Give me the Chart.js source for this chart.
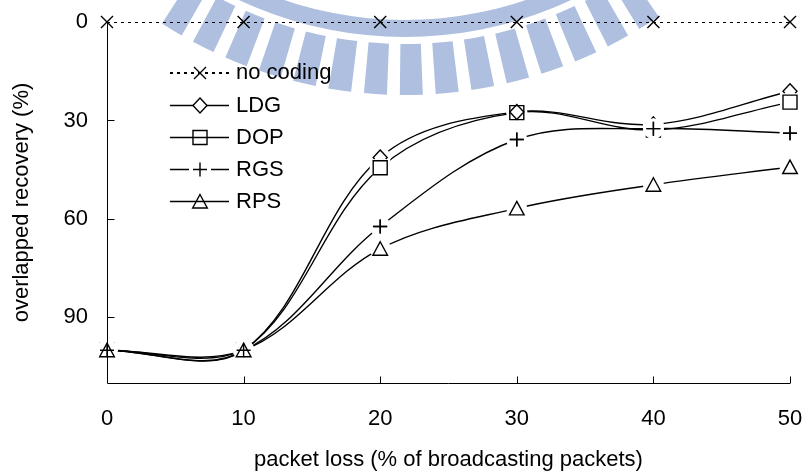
<!DOCTYPE html>
<html>
<head>
<meta charset="utf-8">
<script src="https://cdn.jsdelivr.net/npm/chart.js@4/dist/chart.umd.min.js"></script>
<style>
html, body { margin: 0; padding: 0; background: #fff; }
</style>
</head>
<body>
<canvas id="grafico" width="805" height="473"></canvas>
<script>
// datos
const perdida = [0, 10, 20, 30, 40, 50];
const sinCodigo = [0, 0, 0, 0, 0, 0];
const ldg = [100, 100, 41.3, 27.4, 31.2, 21.1];
const dop = [100, 100, 44.4, 27.6, 32.9, 24.4];
const rgs = [100, 100, 62.3, 35.8, 32.5, 33.9];
const rps = [100, 100, 69.1, 56.8, 49.6, 44.2];
const ticksX = [0, 10, 20, 30, 40, 50];
const ticksY = [0, 30, 60, 90];
const nombres = ['no coding', 'LDG', 'DOP', 'RGS', 'RPS'];

const FUENTE = '"Liberation Sans", Arial, sans-serif';
const TAM = 22;
const AZUL = '#aebfdf';

function puntos(valores) {
  return perdida.map((x, i) => ({ x: x, y: valores[i] }));
}

// dibuja cada marcador a mano
function marcador(ctx, tipo, x, y) {
  ctx.beginPath();
  if (tipo === 'equis') {
    ctx.moveTo(x - 6, y - 6); ctx.lineTo(x + 6, y + 6);
    ctx.moveTo(x - 6, y + 6); ctx.lineTo(x + 6, y - 6);
  } else if (tipo === 'rombo') {
    ctx.moveTo(x, y - 7.5); ctx.lineTo(x + 7, y); ctx.lineTo(x, y + 7.5); ctx.lineTo(x - 7, y); ctx.closePath();
  } else if (tipo === 'cuadro') {
    ctx.rect(x - 7, y - 7, 14, 14);
  } else if (tipo === 'mas') {
    ctx.moveTo(x - 7, y); ctx.lineTo(x + 7, y);
    ctx.moveTo(x, y - 7); ctx.lineTo(x, y + 7);
  } else if (tipo === 'triangulo') {
    ctx.moveTo(x, y - 7); ctx.lineTo(x + 7.3, y + 6.5); ctx.lineTo(x - 7.3, y + 6.5); ctx.closePath();
  }
  ctx.stroke();
}

const estilos = ['equis', 'rombo', 'cuadro', 'mas', 'triangulo'];
const huecos = [0, 10.5, 10.5, 10.5, 10.5];

// marca de agua de fondo (anillo con dientes)
const fondo = {
  id: 'fondo',
  beforeDraw(chart) {
    const ctx = chart.ctx;
    const cx = 405, cy = -354;
    const g = Math.PI / 180;
    ctx.save();
    ctx.fillStyle = AZUL;
    ctx.beginPath();
    ctx.arc(cx, cy, 391, 0, Math.PI * 2);
    ctx.moveTo(cx + 374, cy);
    ctx.arc(cx, cy, 374, 0, Math.PI * 2, true);
    ctx.fill('evenodd');
    for (let k = 0; k < 15; k++) {
      const t = (-31.3 + 4.587 * k) * g;
      const a0 = Math.PI / 2 - t - 1.47 * g;
      const a1 = Math.PI / 2 - t + 1.47 * g;
      ctx.beginPath();
      ctx.arc(cx, cy, 449, a0, a1);
      ctx.arc(cx, cy, 398, a1, a0, true);
      ctx.closePath();
      ctx.fill();
    }
    ctx.restore();
  }
};

// marcadores, ejes y leyenda
const extras = {
  id: 'extras',
  afterDatasetsDraw(chart) {
    const ctx = chart.ctx;
    const area = chart.chartArea;
    ctx.save();
    ctx.strokeStyle = '#000';
    ctx.lineWidth = 1.4;
    chart.data.datasets.forEach((ds, i) => {
      const meta = chart.getDatasetMeta(i);
      meta.data.forEach(p => {
        if (huecos[i]) {
          ctx.fillStyle = '#fff';
          ctx.beginPath();
          ctx.arc(p.x, p.y, huecos[i], 0, Math.PI * 2);
          ctx.fill();
        }
        marcador(ctx, estilos[i], p.x, p.y);
      });
      // el rombo se ve dentro del cuadro cuando coinciden
      if (i === 2) {
        const m1 = chart.getDatasetMeta(1).data;
        meta.data.forEach((p, j) => {
          if (Math.abs(m1[j].y - p.y) < 3 && ldg[j] < 90) marcador(ctx, 'rombo', m1[j].x, m1[j].y);
        });
      }
    });
    // el signo mas queda encima del triangulo
    chart.getDatasetMeta(3).data.forEach(p => marcador(ctx, 'mas', p.x, p.y));

    // ejes con marcas hacia dentro
    const izq = Math.round(area.left) + 0.5;
    const abajo = Math.round(area.bottom) + 0.5;
    ctx.lineWidth = 1;
    ctx.beginPath();
    ctx.moveTo(izq, area.top);
    ctx.lineTo(izq, abajo);
    ctx.lineTo(area.right, abajo);
    ticksY.slice(1).forEach(v => {
      const y = Math.round(chart.scales.y.getPixelForValue(v)) + 0.5;
      ctx.moveTo(izq, y); ctx.lineTo(izq + 7, y);
    });
    ticksX.slice(1).forEach(v => {
      const x = Math.round(chart.scales.x.getPixelForValue(v)) + 0.5;
      ctx.moveTo(x, abajo); ctx.lineTo(x, abajo - 7);
    });
    ctx.stroke();

    // leyenda dentro del area
    const filas = [73, 105.5, 137.5, 169.5, 201.5];
    ctx.font = TAM + 'px ' + FUENTE;
    ctx.textBaseline = 'middle';
    ctx.textAlign = 'left';
    nombres.forEach((n, i) => {
      const y = filas[i];
      ctx.lineWidth = i === 0 ? 2 : 1.4;
      ctx.setLineDash(i === 0 ? [3, 4] : []);
      ctx.beginPath();
      if (i === 3) {
        ctx.moveTo(170, y); ctx.lineTo(189, y);
        ctx.moveTo(211, y); ctx.lineTo(229, y);
      } else {
        ctx.moveTo(170, y); ctx.lineTo(229, y);
      }
      ctx.stroke();
      ctx.setLineDash([]);
      ctx.lineWidth = 1.4;
      if (i === 1) {
        ctx.fillStyle = '#fff';
        ctx.beginPath();
        ctx.moveTo(200, y - 7.5); ctx.lineTo(207, y); ctx.lineTo(200, y + 7.5); ctx.lineTo(193, y); ctx.closePath();
        ctx.fill();
      }
      marcador(ctx, estilos[i], 200, y);
      ctx.fillStyle = '#000';
      ctx.fillText(n, 236, y);
    });
    ctx.restore();
  }
};

function sinRelleno(s) {
  s.paddingLeft = 0;
  s.paddingRight = 0;
  s.paddingTop = 0;
  s.paddingBottom = 0;
}

const ctx = document.getElementById('grafico');
const grafico = new Chart(ctx, {
  type: 'line',
  data: {
    datasets: [
      { label: nombres[0], data: puntos(sinCodigo), borderColor: '#000', borderWidth: 2, borderDash: [3, 4], tension: 0, pointRadius: 0 },
      { label: nombres[1], data: puntos(ldg), borderColor: '#000', borderWidth: 1.4, tension: 0.35, pointRadius: 0 },
      { label: nombres[2], data: puntos(dop), borderColor: '#000', borderWidth: 1.4, tension: 0.35, pointRadius: 0 },
      { label: nombres[3], data: puntos(rgs), borderColor: '#000', borderWidth: 1.4, tension: 0.35, pointRadius: 0 },
      { label: nombres[4], data: puntos(rps), borderColor: '#000', borderWidth: 1.4, tension: 0.35, pointRadius: 0 }
    ]
  },
  options: {
    responsive: false,
    animation: false,
    layout: { padding: { top: 22, right: 15, left: 0, bottom: 0 } },
    plugins: { legend: { display: false }, tooltip: { enabled: false } },
    scales: {
      x: {
        type: 'linear',
        min: 0,
        max: 50,
        afterBuildTicks: s => { s.ticks = ticksX.map(v => ({ value: v })); },
        afterFit: s => { s.height = 90; sinRelleno(s); },
        grid: { display: false, drawTicks: false },
        border: { display: false },
        ticks: { padding: 23, color: '#000', maxRotation: 0, font: { family: FUENTE, size: TAM } },
        title: { display: true, text: 'packet loss (% of broadcasting packets)', color: '#000', padding: 0, font: { family: FUENTE, size: TAM } }
      },
      y: {
        type: 'linear',
        reverse: true,
        min: 0,
        max: 110,
        afterBuildTicks: s => { s.ticks = ticksY.map(v => ({ value: v })); },
        afterFit: s => { s.width = 107; sinRelleno(s); },
        grid: { display: false, drawTicks: false },
        border: { display: false },
        ticks: { padding: 19, color: '#000', font: { family: FUENTE, size: TAM } },
        title: { display: true, text: 'overlapped recovery (%)', color: '#000', padding: { top: 9, bottom: 0 }, font: { family: FUENTE, size: TAM } }
      }
    }
  },
  plugins: [fondo, extras]
});
</script>
</body>
</html>
